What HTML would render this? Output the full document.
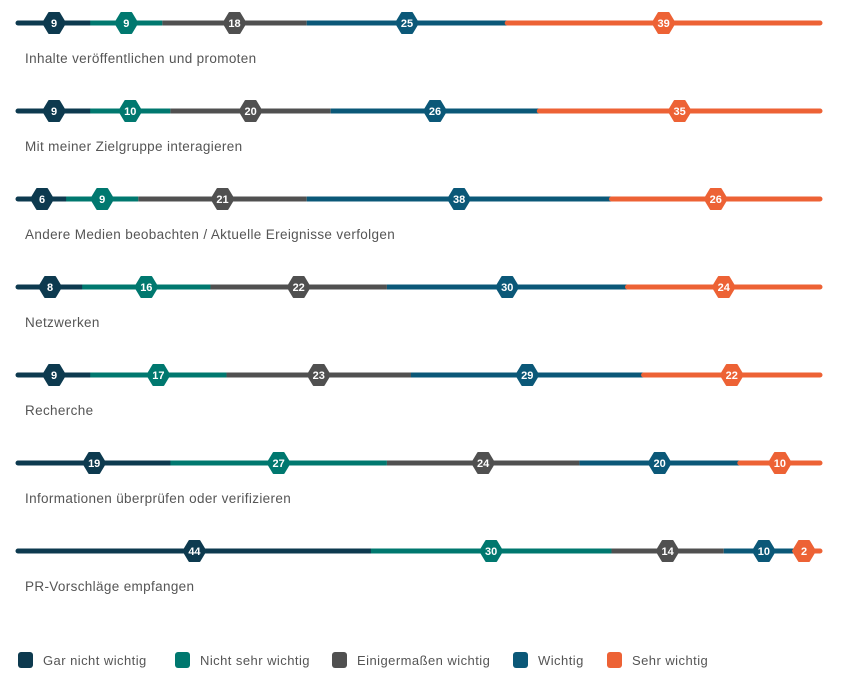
<!DOCTYPE html>
<html><head><meta charset="utf-8"><style>
body{margin:0;background:#fff;width:845px;height:684px;overflow:hidden;font-family:"Liberation Sans",sans-serif}
</style></head><body>
<svg width="845" height="684" id="chart"></svg>
<script>
const categories=["Inhalte veröffentlichen und promoten","Mit meiner Zielgruppe interagieren","Andere Medien beobachten / Aktuelle Ereignisse verfolgen","Netzwerken","Recherche","Informationen überprüfen oder verifizieren","PR-Vorschläge empfangen"];
const garNicht=[9,9,6,8,9,19,44];
const nichtSehr=[9,10,9,16,17,27,30];
const einiger=[18,20,21,22,23,24,14];
const wichtig=[25,26,38,30,29,20,10];
const sehr=[39,35,26,24,22,10,2];
const seriesNames=["Gar nicht wichtig","Nicht sehr wichtig","Einigermaßen wichtig","Wichtig","Sehr wichtig"];
const colors=["#0d3a4f","#00786f","#505050","#0b5878","#ed6235"];
const series=[garNicht,nichtSehr,einiger,wichtig,sehr];
const svg=document.getElementById('chart');
const NS="http://www.w3.org/2000/svg";
const x0=18,x1=820,rowY0=23,rowStep=88;
function xs(v,t){return x0+(v/t)*(x1-x0);}
function mk(tag,attrs,parent){const e=document.createElementNS(NS,tag);for(const k in attrs)e.setAttribute(k,attrs[k]);(parent||svg).appendChild(e);return e;}
categories.forEach((cat,i)=>{
  const y=rowY0+i*rowStep;
  const g=mk('g',{});
  
  
  let total=0;series.forEach(s=>total+=s[i]);
  let acc=0;const centers=[];
  series.forEach((s,j)=>{
    const a=xs(acc,total),b=xs(acc+s[i],total);
    const l=mk('line',{x1:a,x2:b,y1:y,y2:y,stroke:colors[j],'stroke-width':5,'stroke-linecap':(j==0||j==4)?'round':'butt'},g);
    
    
    centers.push((a+b)/2);acc+=s[i];
  });
  series.forEach((s,j)=>{
    let cx=Math.min(Math.max(centers[j],x0+18),x1-16);
    const hw=11,hh=10,q=5;
    const p=mk('path',{d:`M${cx-hw},${y} L${cx-q},${y-hh} L${cx+q},${y-hh} L${cx+hw},${y} L${cx+q},${y+hh} L${cx-q},${y+hh} Z`,fill:colors[j],stroke:colors[j],'stroke-width':2,'stroke-linejoin':'round'},g);
    
    
    const t=mk('text',{x:cx,y:y+4,'text-anchor':'middle','font-size':11,'font-weight':'bold',fill:'#fff'},g);
    t.textContent=s[i];
    
    
  });
  const lb=mk('text',{x:25,y:y+40,'font-size':13.5,'letter-spacing':0.35,fill:'#555'},g);
  lb.textContent=cat;
  
  
});
const legX=[18,175,332,513,607];
seriesNames.forEach((n,j)=>{
  const g=mk('g',{});
  
  
  mk('rect',{x:legX[j],y:652,width:15,height:16,rx:3,fill:colors[j]},g);
  const t=mk('text',{x:legX[j]+25,y:665,'font-size':13,'letter-spacing':0.45,fill:'#555'},g);
  t.textContent=n;
});
</script>
</body></html>
